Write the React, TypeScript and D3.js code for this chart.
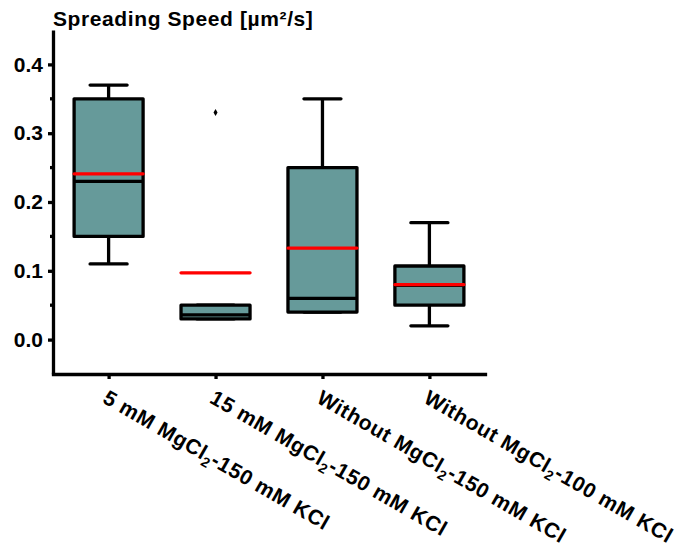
import React, { useRef, useEffect } from "react";
import * as d3 from "d3";

// label parts: before subscript, subscript, after subscript
const labelHead = ["5 mM MgCl", "15 mM MgCl", "Without MgCl", "Without MgCl"];
const labelSub = ["2", "2", "2", "2"];
const labelTail = ["-150 mM KCl", "-150 mM KCl", "-150 mM KCl", "-100 mM KCl"];
const categories = ["5mM-150", "15mM-150", "0mM-150", "0mM-100"];

const whiskerLow = [0.11, 0.03, 0.04, 0.02];
const q1 = [0.15, 0.03, 0.04, 0.05];
const median = [0.23, 0.036, 0.06, 0.079];
const q3 = [0.35, 0.05, 0.25, 0.107];
const whiskerHigh = [0.37, 0.05, 0.35, 0.17];
const mean = [0.241, 0.097, 0.133, 0.08];
const outliers = [[], [0.33], [], []];

const yTicks = [0, 0.1, 0.2, 0.3, 0.4];
const yMinorTicks = [0.05, 0.15, 0.25, 0.35];

const App = () => {
  const svgRef = useRef(null);

  useEffect(() => {
    const svg = d3.select(svgRef.current);
    svg.selectAll("*").remove();

    const width = 681;
    const height = 548;
    const margin = { top: 30, left: 53, right: 196, bottom: 174 };
    const font = "'Liberation Sans', Arial, sans-serif";
    const sw = 3.3; // stroke width used everywhere

    const x = d3
      .scalePoint()
      .domain(categories)
      .range([margin.left, width - margin.right])
      .padding(0.52);

    const y = d3
      .scaleLinear()
      .domain([-0.05, 0.45])
      .range([height - margin.bottom, margin.top]);

    const boxW = 69;
    const capW = 37;
    const teal = "#669a9a";

    // boxes
    const g = svg.append("g");
    categories.forEach((c, i) => {
      const cx = x(c);
      // whiskers
      g.append("line")
        .attr("x1", cx).attr("x2", cx)
        .attr("y1", y(q3[i])).attr("y2", y(whiskerHigh[i]))
        .attr("stroke", "#000").attr("stroke-width", sw);
      g.append("line")
        .attr("x1", cx).attr("x2", cx)
        .attr("y1", y(q1[i])).attr("y2", y(whiskerLow[i]))
        .attr("stroke", "#000").attr("stroke-width", sw);
      [whiskerHigh[i], whiskerLow[i]].forEach((v) => {
        g.append("line")
          .attr("x1", cx - capW / 2).attr("x2", cx + capW / 2)
          .attr("y1", y(v)).attr("y2", y(v))
          .attr("stroke", "#000").attr("stroke-width", sw)
          .attr("stroke-linecap", "round");
      });
      g.append("rect")
        .attr("x", cx - boxW / 2)
        .attr("y", y(q3[i]))
        .attr("width", boxW)
        .attr("height", y(q1[i]) - y(q3[i]))
        .attr("fill", teal)
        .attr("stroke", "#000")
        .attr("stroke-width", sw)
        .attr("stroke-linejoin", "round");
      g.append("line")
        .attr("x1", cx - boxW / 2).attr("x2", cx + boxW / 2)
        .attr("y1", y(median[i])).attr("y2", y(median[i]))
        .attr("stroke", "#000").attr("stroke-width", sw);
      g.append("line")
        .attr("x1", cx - boxW / 2).attr("x2", cx + boxW / 2)
        .attr("y1", y(mean[i])).attr("y2", y(mean[i]))
        .attr("stroke", "#ff0000").attr("stroke-width", sw)
        .attr("stroke-linecap", "round");
      outliers[i].forEach((v) => {
        g.append("path")
          .attr("d", d3.symbol(d3.symbolDiamond, 14)())
          .attr("transform", `translate(${cx},${y(v)})`)
          .attr("fill", "#000");
      });
    });

    // y axis
    const yAxis = svg
      .append("g")
      .attr("transform", `translate(${margin.left},0)`)
      .call(
        d3
          .axisLeft(y)
          .tickValues(yTicks)
          .tickSize(5)
          .tickSizeOuter(0)
          .tickPadding(5)
          .tickFormat(d3.format(".1f"))
      );
    yAxis.select(".domain").attr("stroke-width", sw);
    yAxis.selectAll(".tick line").attr("stroke-width", sw);
    yAxis
      .selectAll("text")
      .attr("font-family", font)
      .attr("font-size", 21)
      .attr("font-weight", "bold")
      .attr("fill", "#000");

    yMinorTicks.forEach((v) => {
      svg.append("line")
        .attr("x1", margin.left - 3).attr("x2", margin.left)
        .attr("y1", y(v)).attr("y2", y(v))
        .attr("stroke", "#000").attr("stroke-width", sw);
    });

    // x axis
    const xAxis = svg
      .append("g")
      .attr("transform", `translate(0,${height - margin.bottom})`)
      .call(d3.axisBottom(x).tickSize(5).tickSizeOuter(0).tickFormat(() => ""));
    xAxis.select(".domain").attr("stroke-width", sw).attr("stroke-linecap", "square");
    xAxis.selectAll(".tick line").attr("stroke-width", sw);

    categories.forEach((c, i) => {
      const t = svg
        .append("text")
        .attr("transform", `translate(${x(c) - 7},${height - margin.bottom + 28}) rotate(30)`)
        .attr("font-family", font)
        .attr("font-size", 21)
        .attr("font-weight", "bold")
        .attr("letter-spacing", 0.6)
        .attr("fill", "#000");
      t.append("tspan").text(labelHead[i]);
      t.append("tspan").attr("font-size", 14).attr("dy", 5).text(labelSub[i]);
      t.append("tspan").attr("dy", -5).text(labelTail[i]);
    });

    // title
    svg
      .append("text")
      .attr("x", margin.left)
      .attr("y", 26)
      .attr("font-family", font)
      .attr("font-size", 21)
      .attr("font-weight", "bold")
      .attr("letter-spacing", 0.6)
      .attr("fill", "#000")
      .text("Spreading Speed [µm²/s]");

    return () => {
      svg.selectAll("*").remove();
    };
  }, []);

  return (
    <svg
      ref={svgRef}
      width={681}
      height={548}
      style={{ position: "absolute", left: 0, top: 0, background: "#fff" }}
    />
  );
};

export default App;
